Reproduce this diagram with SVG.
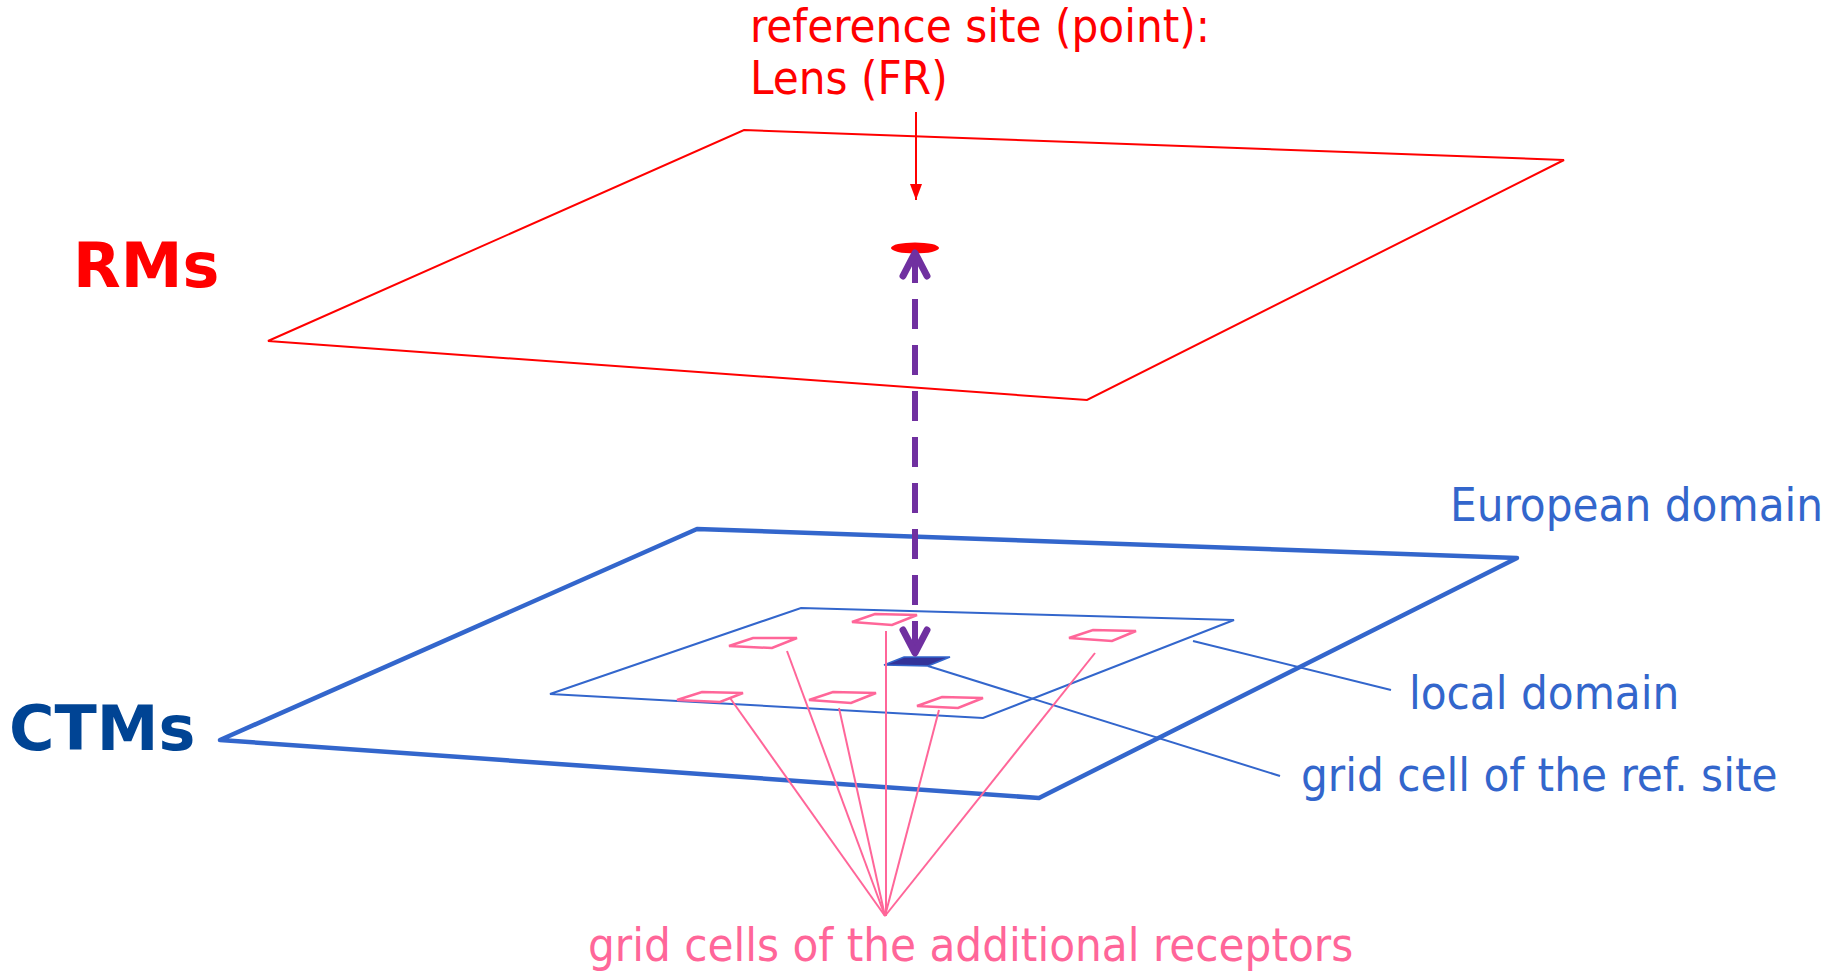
<svg xmlns="http://www.w3.org/2000/svg" width="1841" height="976" viewBox="0 0 1841 976">
<style>
  .txt { font-family: "DejaVu Sans Condensed", "DejaVu Sans", sans-serif; font-size: 47px; }
  .big { font-family: "DejaVu Sans", sans-serif; font-weight: bold; font-size: 62px; }
  .red { fill: #ff0000; }
  .blue { fill: #3366cc; }
  .pink { fill: #ff6699; }
  .cell { fill: none; stroke: #ff6699; stroke-width: 2.5; }
  .pline { fill: none; stroke: #ff6699; stroke-width: 2; }
  .bline { fill: none; stroke: #3366cc; stroke-width: 2; }
</style>
<defs>
  <marker id="redhead" markerUnits="userSpaceOnUse" markerWidth="20" markerHeight="14" refX="16" refY="6" orient="auto" overflow="visible">
    <path d="M0,0 L16,6 L0,12 Z" fill="#ff0000"/>
  </marker>
  <marker id="chev" markerUnits="userSpaceOnUse" markerWidth="40" markerHeight="40" refX="0" refY="0" orient="auto-start-reverse" overflow="visible">
    <path d="M-23,-12 L0,0 L-23,12" fill="none" stroke="#7030a0" stroke-width="7" stroke-linecap="round" stroke-linejoin="round"/>
  </marker>
</defs>
<rect width="1841" height="976" fill="#ffffff"/>

<g id="rm-plane">
  <polygon points="744,130 1564,160 1087,400 268,341" fill="none" stroke="#ff0000" stroke-width="2"/>
  <ellipse cx="915" cy="248" rx="24" ry="5.5" fill="#ff0000"/>
  <text class="big red" x="73" y="287">RMs</text>
</g>

<g id="ref-site-label">
  <text class="txt red" x="750" y="42" font-size="48">reference site (point):</text>
  <text class="txt red" x="750" y="94" font-size="48">Lens (FR)</text>
</g>

<g id="ctm-plane">
  <polygon points="697,529 1517,558 1039,798 220,740" fill="none" stroke="#3366cc" stroke-width="4.5" stroke-linejoin="round"/>
  <text class="big" fill="#004494" x="9" y="750">CTMs</text>
  <text class="txt blue" x="1450" y="521">European domain</text>
</g>

<g id="local-domain">
  <polygon points="801,608 1234,620 983,718 550,694" class="bline"/>
  <text class="txt blue" x="1409" y="709">local domain</text>
</g>

<g id="ref-cell">
  <polygon points="884,665 904,657 950,657 928,666" fill="#333399" stroke="#3366cc" stroke-width="1.5"/>
  <text class="txt blue" x="1301" y="791">grid cell of the ref. site</text>
</g>

<g id="receptor-cells">
  <polygon class="cell" points="729,646 753,638 797,638 772,648"/>
  <polygon class="cell" points="852,622 875,614 917,615 892,625"/>
  <polygon class="cell" points="677,700 702,692 743,693 720,702"/>
  <polygon class="cell" points="809,700 833,692 876,693 851,703"/>
  <polygon class="cell" points="917,706 942,697 983,698 958,708"/>
  <polygon class="cell" points="1069,638 1093,630 1136,631 1112,641"/>
  <text class="txt pink" x="588" y="961">grid cells of the additional receptors</text>
</g>

<g id="connectors">
  <line x1="916" y1="112" x2="916" y2="200" stroke="#ff0000" stroke-width="2" marker-end="url(#redhead)"/>
  <line x1="915" y1="253" x2="915" y2="653" stroke="#7030a0" stroke-width="6" stroke-dasharray="30 16" marker-start="url(#chev)" marker-end="url(#chev)"/>
  <line class="bline" x1="1193" y1="641" x2="1391" y2="690"/>
  <line class="bline" x1="928" y1="666" x2="1280" y2="776"/>
  <line class="pline" x1="730" y1="698" x2="885" y2="916"/>
  <line class="pline" x1="787" y1="651" x2="885" y2="916"/>
  <line class="pline" x1="839" y1="708" x2="885" y2="916"/>
  <line class="pline" x1="886" y1="631" x2="886" y2="916"/>
  <line class="pline" x1="939" y1="710" x2="885" y2="916"/>
  <line class="pline" x1="1095" y1="653" x2="885" y2="916"/>
</g>
</svg>
